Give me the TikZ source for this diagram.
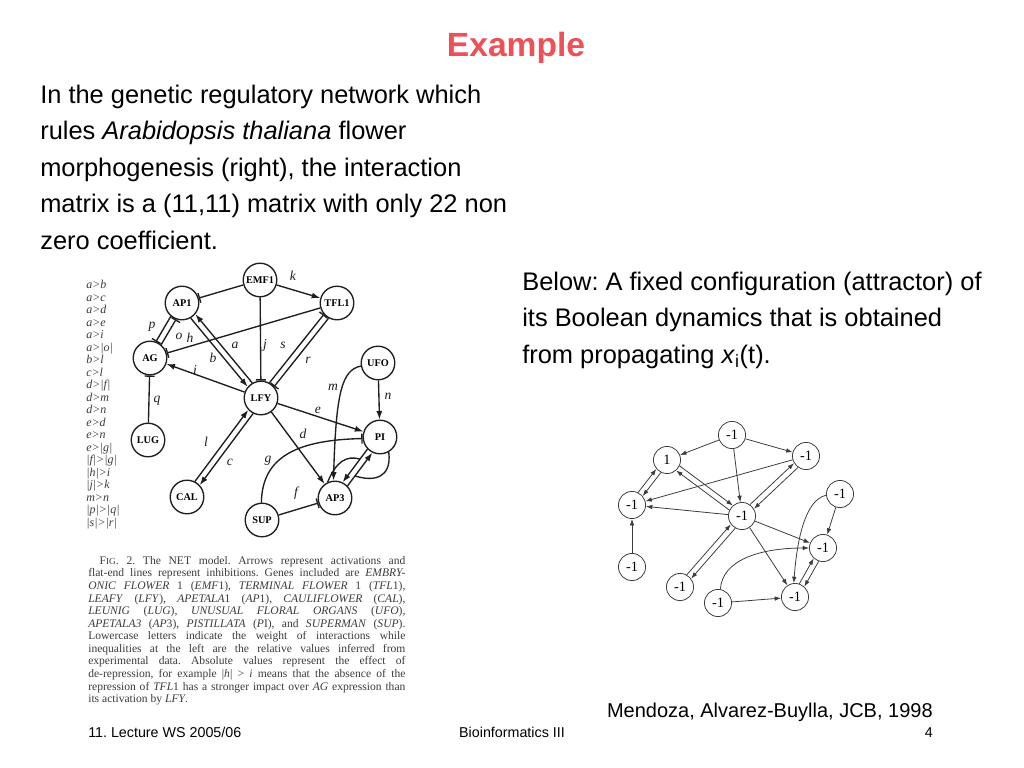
\documentclass[tikz,border=0pt]{standalone}
\usepackage{fontspec}
\setmainfont{Liberation Sans}
\newfontfamily\tnr{Liberation Serif}
\usetikzlibrary{arrows.meta,calc}
\frenchspacing
\definecolor{titlered}{RGB}{238,80,88}
\definecolor{scan}{RGB}{30,30,30}
\definecolor{scanlight}{RGB}{60,60,60}
\tikzset{
  gene/.style={circle, draw=scan, line width=0.95pt, fill=white, minimum size=23.5pt,
    inner sep=0pt, font=\tnr\bfseries\fontsize{7.2}{8}\selectfont},
  state/.style={circle, draw=scanlight, line width=0.55pt, fill=white, minimum size=19pt,
    inner sep=0pt, font=\tnr\fontsize{10}{10}\selectfont},
  act/.style={draw=scan, line width=0.95pt, -{Latex[length=6pt,width=4.2pt]}},
  inh/.style={draw=scan, line width=0.95pt, -{Bar[width=7pt,line width=0.95pt]}},
  plain/.style={draw=scan, line width=0.95pt},
  lnk/.style={draw=scanlight, line width=0.55pt, -{Latex[length=4.5pt,width=3.2pt]}},
  wt/.style={font=\tnr\itshape\fontsize{9.5}{9.5}\selectfont, text=scan, inner sep=0pt},
  body/.style={anchor=base west, inner sep=0pt, font=\fontsize{17.8}{20}\selectfont},
  foot/.style={anchor=base, inner sep=0pt, font=\fontsize{10}{10}\selectfont},
}
\begin{document}
\begin{tikzpicture}[x=0.7pt, y=-0.7pt]
\useasboundingbox[fill=white] (0,0) rectangle (1024,768);

\node[anchor=base, inner sep=0pt, text=titlered, font=\bfseries\fontsize{23.5}{24}\selectfont] (title) at (516,56) {Example};

\node[body] (t1) at (40,103) {In the genetic regulatory network which};
\node[body] (t2) at (40,139.5) {rules \textit{Arabidopsis thaliana} flower};
\node[body] (t3) at (40,176) {morphogenesis (right), the interaction};
\node[body] (t4) at (40,212.5) {matrix is a (11,11) matrix with only 22 non};
\node[body] (t5) at (40,249) {zero coefficient.};

\node[body] (b1) at (522,290) {Below: A fixed configuration (attractor) of};
\node[body] (b2) at (522,326.5) {its Boolean dynamics that is obtained};
\node[body] (b3) at (522,363) {from propagating \textit{x}\textsubscript{i}(t).};

\node[anchor=north west, inner sep=0pt, align=left, text=scanlight,
  font=\tnr\itshape\fontsize{8.4}{8.75}\selectfont] (rules) at (86,280)
  {a>b\\a>c\\a>d\\a>e\\a>i\\a>|o|\\b>l\\c>l\\d>|f|\\d>m\\d>n\\e>d\\e>n\\e>|g|\\
   |f|>|g|\\|h|>i\\|j|>k\\m>n\\|p|>|q|\\|s|>|r|};

\node[gene] (emf) at (260,280) {EMF1};
\node[gene] (ap1) at (182,303) {AP1};
\node[gene] (tfl) at (337,303) {TFL1};
\node[gene] (ag) at (150,358) {AG};
\node[gene] (ufo) at (378,363) {UFO};
\node[gene] (lfy) at (261,398) {LFY};
\node[gene] (lug) at (148,440) {LUG};
\node[gene] (pi) at (380,437) {PI};
\node[gene] (cal) at (187,497) {CAL};
\node[gene] (ap3) at (335,498) {AP3};
\node[gene] (sup) at (262,520) {SUP};

\draw[inh] (emf) -- (ap1);
\draw[act] (emf) -- (tfl);
\draw[inh] (emf) -- (lfy);
\draw[inh] (tfl) -- (ag);
\draw[act] (ap1.-60) -- (lfy.140);
\draw[act] (lfy.120) -- (ap1.-40);
\draw[inh] (lfy.61) -- (tfl.221);
\draw[inh] (tfl.241) -- (lfy.41);
\draw[inh] (ap1.230) -- (ag.70);
\draw[inh] (ag.50) -- (ap1.250);
\draw[act] (lfy) -- (ag);
\draw[inh] (lug) -- (ag);
\draw[act] (cal.63) -- (lfy.223);
\draw[act] (lfy.243) -- (cal.43);
\draw[act] (lfy) -- (pi);
\draw[act] (lfy) -- (ap3);
\draw[act] (ufo) -- (pi);
\draw[act] (ufo.190) .. controls (342,370) and (336,392) .. (ap3.95);
\draw[inh] (sup) -- (ap3);
\draw[inh] (sup.92) .. controls (262,455) and (300,440) .. (pi.185);
\draw[act] (pi.224) -- (ap3.64);
\draw[act] (ap3.44) -- (pi.244);
\coordinate (pa) at ($(pi.224)!0.3!(ap3.64)$);
\coordinate (ap) at ($(ap3.44)!0.3!(pi.244)$);
\draw[plain] (ap3.115) .. controls (336,462) and (346,455) .. (pa);
\draw[plain] (pi.-60) .. controls (392,478) and (374,482) .. (ap);

\node[wt] (lk) at (293,276) {k};
\node[wt] (lj) at (265,345) {j};
\node[wt] (ls) at (283,345) {s};
\node[wt] (la) at (235,345) {a};
\node[wt] (lb) at (213,358) {b};
\node[wt] (lp) at (152,327) {p};
\node[wt] (lo) at (179,336) {o};
\node[wt] (lh) at (190,338) {h};
\node[wt] (li) at (195,370) {i};
\node[wt] (lq) at (157,401) {q};
\node[wt] (lr) at (308,360) {r};
\node[wt] (lm) at (333,387) {m};
\node[wt] (ln) at (388,396) {n};
\node[wt] (le) at (318,410) {e};
\node[wt] (ld) at (303,434) {d};
\node[wt] (ll) at (206,442) {l};
\node[wt] (lc) at (230,462) {c};
\node[wt] (lg) at (268,461) {g};
\node[wt] (lf) at (296,493) {f};

\node[anchor=north west, inner sep=0pt, text width=222pt, align=justify, text=scanlight,
  font=\tnr\fontsize{8.1}{8.8}\selectfont] (fig) at (88,556)
  {\hspace*{8pt}F{\fontsize{6.5}{6}\selectfont IG}. 2. The NET model. Arrows represent activations and\linebreak
   flat-end lines represent inhibitions. Genes included are \textit{EMBRY-}\linebreak
   \textit{ONIC FLOWER} 1 (\textit{EMF}1), \textit{TERMINAL FLOWER} 1 (\textit{TFL}1),\linebreak
   \textit{LEAFY} (\textit{LFY}), \textit{APETALA}1 (\textit{AP}1), \textit{CAULIFLOWER} (\textit{CAL}),\linebreak
   \textit{LEUNIG} (\textit{LUG}), \textit{UNUSUAL FLORAL ORGANS} (\textit{UFO}),\linebreak
   \textit{APETALA3} (\textit{AP}3), \textit{PISTILLATA} (\textit{P}I), and \textit{SUPERMAN} (\textit{SUP}).\linebreak
   Lowercase letters indicate the weight of interactions while\linebreak
   inequalities at the left are the relative values inferred from\linebreak
   experimental data. Absolute values represent the effect of\linebreak
   de-repression, for example |\textit{h}| > \textit{i} means that the absence of the\linebreak
   repression of \textit{TFL}1 has a stronger impact over \textit{AG} expression than\linebreak
   its activation by \textit{LFY}.};

\node[state] (xemf) at (732,435) {-1};
\node[state] (xap1) at (667,460) {1};
\node[state] (xtfl) at (806,456) {-1};
\node[state] (xag) at (632,505) {-1};
\node[state] (xlfy) at (742,516) {-1};
\node[state] (xufo) at (840,494) {-1};
\node[state] (xpi) at (823,548) {-1};
\node[state] (xlug) at (632,567) {-1};
\node[state] (xcal) at (680,587) {-1};
\node[state] (xsup) at (718,603) {-1};
\node[state] (xap3) at (795,597) {-1};

\draw[lnk] (xemf) -- (xap1);
\draw[lnk] (xemf) -- (xtfl);
\draw[lnk] (xemf) -- (xlfy);
\draw[lnk] (xap1.-25) -- (xlfy.131);
\draw[lnk] (xlfy.155) -- (xap1.-49);
\draw[lnk] (xtfl.235) -- (xlfy.31);
\draw[lnk] (xlfy.55) -- (xtfl.211);
\draw[lnk] (xcal.61) -- (xlfy.217);
\draw[lnk] (xlfy.241) -- (xcal.37);
\draw[lnk] (xag.64) -- (xap1.220);
\draw[lnk] (xap1.244) -- (xag.40);
\draw[lnk] (xtfl) -- (xag);
\draw[lnk] (xlfy) -- (xag);
\draw[lnk] (xlug) -- (xag);
\draw[lnk] (xlfy) -- (xpi);
\draw[lnk] (xlfy) -- (xap3);
\draw[lnk] (xufo) -- (xpi);
\draw[lnk] (xufo.185) .. controls (805,500) and (797,540) .. (xap3.95);
\draw[lnk] (xsup.80) .. controls (722,560) and (760,548) .. (xpi.180);
\draw[lnk] (xsup) -- (xap3);
\draw[lnk] (xap3.72) -- (xpi.228);
\draw[lnk] (xpi.252) -- (xap3.48);

\node[anchor=base east, inner sep=0pt, font=\fontsize{14}{14}\selectfont] (cite) at (933,717) {Mendoza, Alvarez-Buylla, JCB, 1998};
\node[anchor=base west, inner sep=0pt, font=\fontsize{10}{10}\selectfont] (foot1) at (88,737) {11. Lecture WS 2005/06};
\node[foot] (foot2) at (512,737) {Bioinformatics III};
\node[anchor=base east, inner sep=0pt, font=\fontsize{10}{10}\selectfont] (foot3) at (933,737) {4};
\end{tikzpicture}
\end{document}
